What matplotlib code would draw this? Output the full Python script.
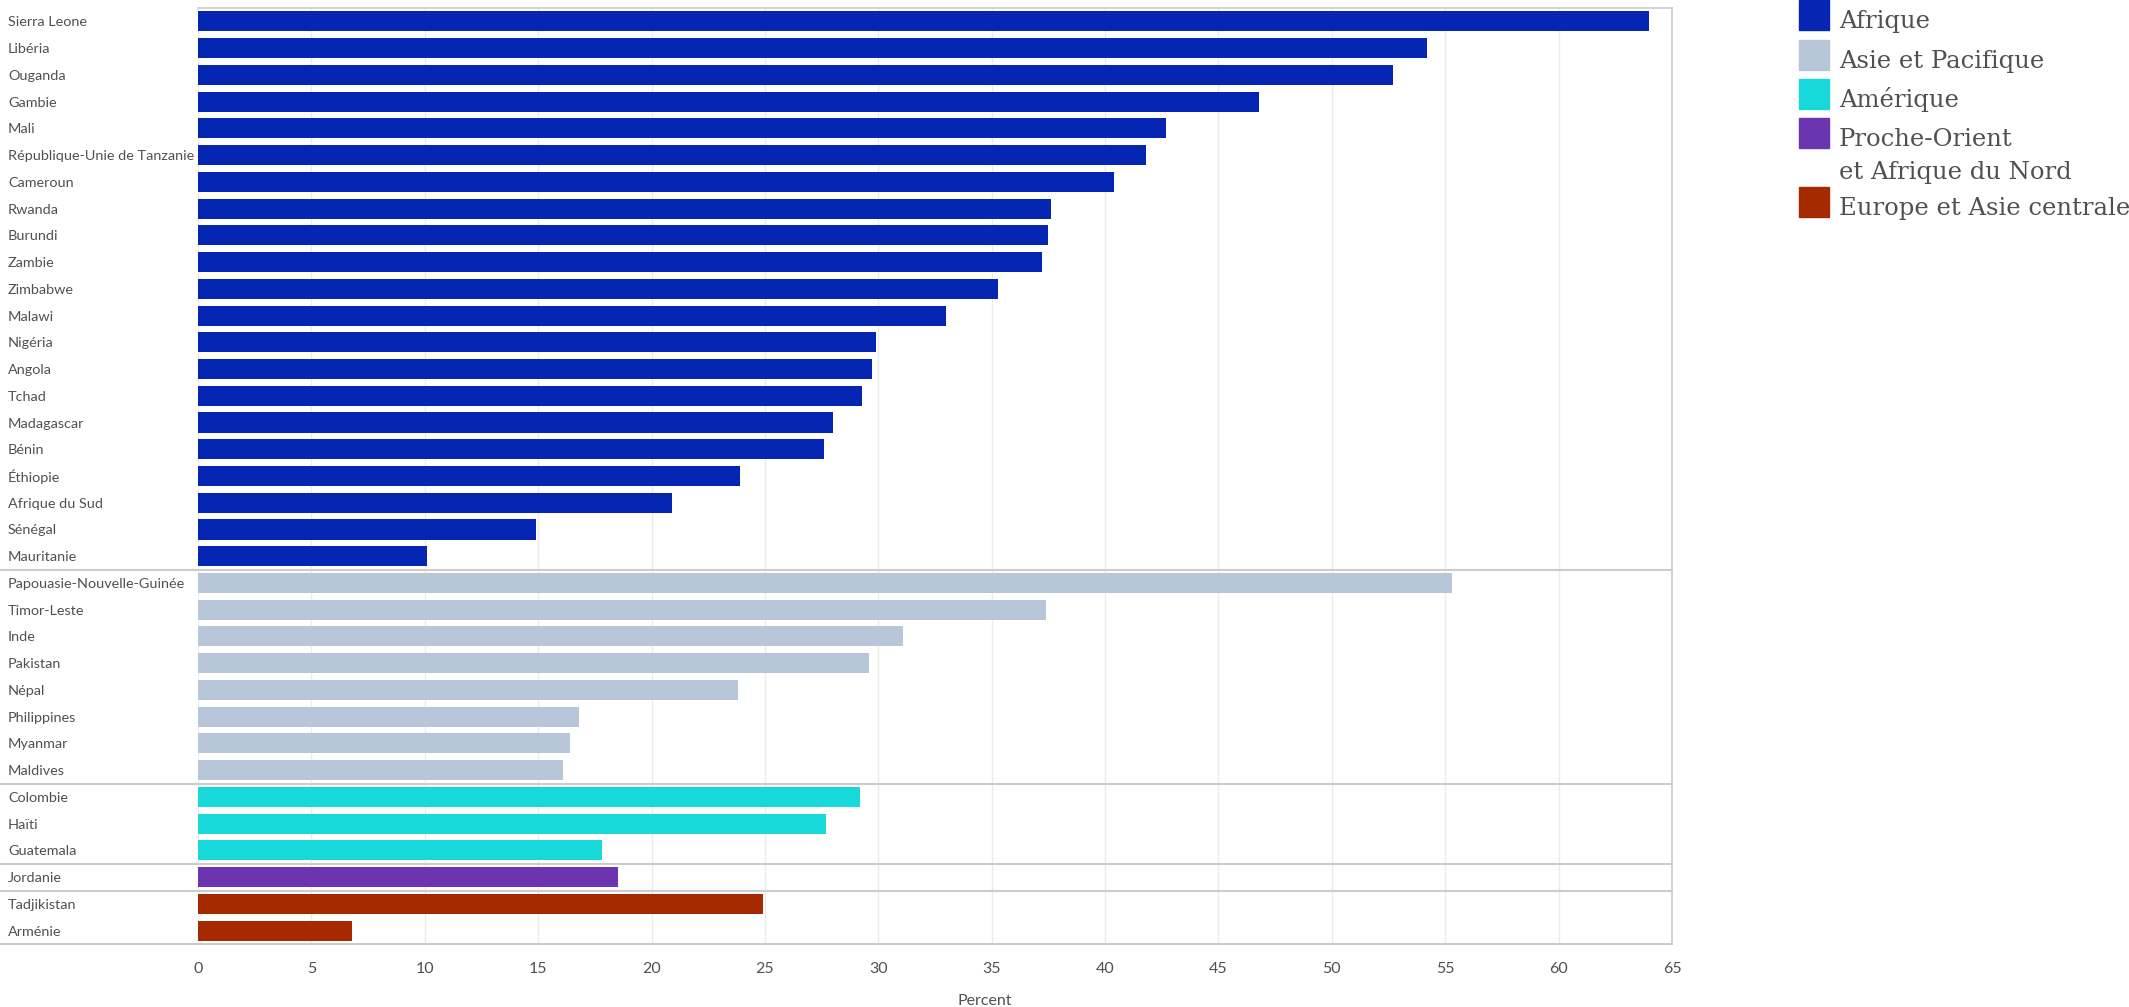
import matplotlib
matplotlib.use("Agg")
import matplotlib.pyplot as plt
from matplotlib.patches import Rectangle

# data
countries = ["Sierra Leone", "Libéria", "Ouganda", "Gambie", "Mali", "République-Unie de Tanzanie",
             "Cameroun", "Rwanda", "Burundi", "Zambie", "Zimbabwe", "Malawi", "Nigéria", "Angola",
             "Tchad", "Madagascar", "Bénin", "Éthiopie", "Afrique du Sud", "Sénégal", "Mauritanie",
             "Papouasie-Nouvelle-Guinée", "Timor-Leste", "Inde", "Pakistan", "Népal", "Philippines",
             "Myanmar", "Maldives",
             "Colombie", "Haïti", "Guatemala",
             "Jordanie",
             "Tadjikistan", "Arménie"]
values = [64.0, 54.2, 52.7, 46.8, 42.7, 41.8, 40.4, 37.6, 37.5, 37.2, 35.3, 33.0, 29.9, 29.7,
          29.3, 28.0, 27.6, 23.9, 20.9, 14.9, 10.1,
          55.3, 37.4, 31.1, 29.6, 23.8, 16.8, 16.4, 16.1,
          29.2, 27.7, 17.8,
          18.5,
          24.9, 6.8]
regions = ["Afrique", "Asie et Pacifique", "Amérique", "Proche-Orient\net Afrique du Nord",
           "Europe et Asie centrale"]
region_counts = [21, 8, 3, 1, 2]
region_colors = ["#0526B3", "#B7C7D9", "#17D9D9", "#6A35AE", "#A62A00"]
xticks = list(range(0, 66, 5))

W, H, DPI = 2129, 1007, 100
fig = plt.figure(figsize=(W / DPI, H / DPI), dpi=DPI)
L, R, T, B = 198, 1672, 8, 944
ax = fig.add_axes([L / W, 1 - B / H, (R - L) / W, (B - T) / H])

colors = []
for c, n in zip(region_colors, region_counts):
    colors += [c] * n
pos = list(range(len(countries)))
ax.barh(pos, values, height=0.75, color=colors, zorder=2)

txt = "#505050"
sans = "Lato"
ax.set_xlim(0, 65)
ax.set_ylim(len(countries) - 0.5, -0.5)
ax.set_axisbelow(True)
ax.set_xticks(xticks)
ax.grid(axis="x", color="#ececec", lw=1)
ax.set_yticks(pos, countries)
for lab in ax.get_yticklabels():
    lab.set_ha("left")
ax.tick_params(axis="y", length=0, pad=(L - 8) * 72 / DPI, labelsize=10.4, labelcolor=txt)
ax.tick_params(axis="x", length=0, pad=13, labelsize=11.5, labelcolor=txt)
for lab in ax.get_xticklabels() + ax.get_yticklabels():
    lab.set_family(sans)
for s in ["left", "bottom"]:
    ax.spines[s].set_visible(False)
for s in ["top", "right"]:
    ax.spines[s].set_color("#cccccc")
    ax.spines[s].set_linewidth(1.2)

# group separators spanning the label column as well
xmin = -L / (R - L)
edge = -0.5
for n in region_counts:
    edge += n
    ax.axhline(edge, xmin=xmin, xmax=1, color="#cccccc", lw=1.5, clip_on=False, zorder=3)

fig.text(985 / W, 1 - 1001 / H, "Percent", ha="center", va="center", color=txt,
         fontsize=11.5, family=sans)

# legend drawn by hand: squares and text baselines in pixels
tops = [0, 40, 79, 118, 187]
for top, c, name in zip(tops, region_colors, regions):
    fig.add_artist(Rectangle((1799 / W, 1 - (top + 30) / H), 30 / W, 30 / H, color=c,
                             transform=fig.transFigure))
    base = top + 28
    for line in name.split("\n"):
        fig.text(1839 / W, 1 - base / H, line, ha="left", va="baseline",
                 color=txt, fontsize=17.5, family="DejaVu Serif")
        base += 33

fig.savefig("out.png", dpi=DPI)
